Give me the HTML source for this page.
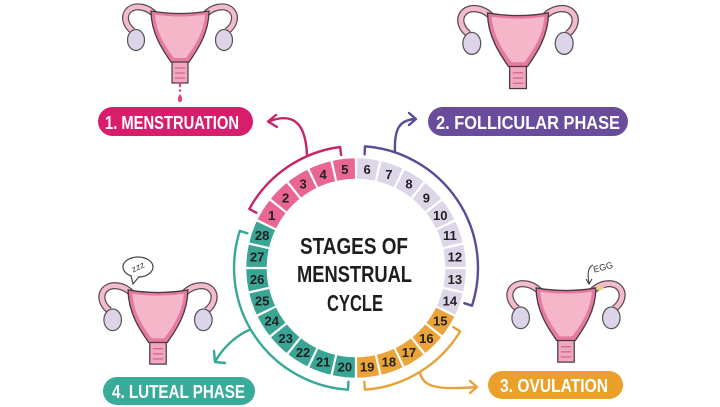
<!DOCTYPE html>
<html><head><meta charset="utf-8"><style>
html,body{margin:0;padding:0;background:#fff;}
svg{display:block;}
text{font-family:"Liberation Sans",sans-serif;}
</style></head><body>
<svg width="720" height="407" viewBox="0 0 720 407" xmlns="http://www.w3.org/2000/svg">
<defs>
  <path id="seg" d="M -11.40,-109.41 A 110 110 0 0 1 11.40,-109.41 L 9.23,-88.52 A 89 89 0 0 0 -9.23,-88.52 Z"/>
  <g id="ut">
    <path d="M -24,4 C -32,-6 -46,-8 -52,-1 C -57,5 -54,14 -47,19" fill="none" stroke="#5a4a55" stroke-width="7"/>
    <path d="M 24,4 C 32,-6 46,-8 52,-1 C 57,5 54,14 47,19" fill="none" stroke="#5a4a55" stroke-width="7"/>
    <path d="M -24,4 C -32,-6 -46,-8 -52,-1 C -57,5 -54,14 -47,19" fill="none" stroke="#f3bccb" stroke-width="4.6"/>
    <path d="M 24,4 C 32,-6 46,-8 52,-1 C 57,5 54,14 47,19" fill="none" stroke="#f3bccb" stroke-width="4.6"/>
    <ellipse cx="-44" cy="28" rx="8.5" ry="10.5" fill="#ddd4ea" stroke="#555" stroke-width="1.2"/>
    <ellipse cx="44" cy="28" rx="8.5" ry="10.5" fill="#ddd4ea" stroke="#555" stroke-width="1.2"/>
    <rect x="-8" y="49" width="16" height="22" fill="#f0a8bf" stroke="#4a3a40" stroke-width="1.2"/>
    <path d="M -5,56 L 5,56 M -5,61 L 5,61 M -5,66 L 5,66" stroke="#d46a8f" stroke-width="1.3"/>
    <path d="M -29,-1 Q 0,4 29,-1 C 29,22 16,40 9,50 L -9,50 C -16,40 -29,22 -29,-1 Z" fill="#e57a9e" stroke="#4a3a40" stroke-width="1.3"/>
    <path d="M -25,2.5 Q 0,6.5 25,2.5 C 24,21 13,37 6,46 L -6,46 C -13,37 -24,21 -25,2.5 Z" fill="#f5b6c9"/>
  </g>
</defs>

<!-- uteri -->
<use href="#ut" transform="translate(180,12)"/>
<path d="M180,84 L180,86" stroke="#d94a7e" stroke-width="2.4" stroke-linecap="round"/>
<circle cx="180" cy="90.5" r="1.3" fill="#d94a7e"/>
<path d="M180,94 Q184.5,100 180,102.5 Q175.5,100 180,94Z" fill="#d94a7e"/>

<use href="#ut" transform="translate(518,14) scale(1.05)"/>

<use href="#ut" transform="translate(566,289) scale(1.03)"/>
<ellipse cx="600" cy="288" rx="4" ry="2.2" fill="#e6cf86"/>
<text x="593" y="271" font-size="9" fill="#333" transform="rotate(-14 600 267)">EGG</text>
<path d="M593,265 Q586,268 589,283" fill="none" stroke="#333" stroke-width="1"/>
<path d="M586,279 L589,284 L592,279" fill="none" stroke="#333" stroke-width="1"/>

<use href="#ut" transform="translate(158,291) scale(1.03)"/>
<ellipse cx="138" cy="267" rx="15" ry="10" fill="#fff" stroke="#444" stroke-width="1.2"/>
<path d="M131,275.5 L133,284 L139,276.8" fill="#fff" stroke="#444" stroke-width="1.2"/>
<text x="138" y="270" font-size="9" fill="#444" text-anchor="middle" transform="rotate(-25 138 267)">zzz</text>

<!-- pills -->
<rect x="98" y="107" width="155" height="29" rx="14.5" fill="#d81d6b"/>
<text x="105" y="129" font-size="18" font-weight="bold" fill="#fff" textLength="134" lengthAdjust="spacingAndGlyphs">1. MENSTRUATION</text>
<rect x="428" y="107" width="200" height="29" rx="14.5" fill="#6a4c9c"/>
<text x="436" y="129" font-size="18" font-weight="bold" fill="#fff" textLength="184" lengthAdjust="spacingAndGlyphs">2. FOLLICULAR PHASE</text>
<rect x="488" y="371" width="135" height="28" rx="14" fill="#eba02a"/>
<text x="500" y="392" font-size="18" font-weight="bold" fill="#fff" textLength="108" lengthAdjust="spacingAndGlyphs">3. OVULATION</text>
<rect x="103" y="377" width="152" height="28" rx="14" fill="#38ab9a"/>
<text x="112" y="398" font-size="18" font-weight="bold" fill="#fff" textLength="133" lengthAdjust="spacingAndGlyphs">4. LUTEAL PHASE</text>

<!-- brackets -->
<g fill="none" stroke-width="2.4" stroke-linecap="round" stroke-linejoin="round">
  <path d="M 256.3,212.7 L 249.3,208.9 A 122 122 0 0 1 340.1,147.0 L 341.1,155.0" stroke="#c8246a"/>
  <path d="M 307,156 C 306,125 295,112 270,121" stroke="#c8246a"/>
  <path d="M 276,115 L 268,121.5 L 277,127" stroke="#c8246a"/>

  <path d="M 364.6,154.3 L 365,146.3 A 122 122 0 0 1 472.0,305.7 L 464.4,303.2" stroke="#5c4a9a"/>
  <path d="M 395,152 C 394,128 400,120 415,119" stroke="#5c4a9a"/>
  <path d="M 409,113 L 416,119 L 409,125" stroke="#5c4a9a"/>

  <path d="M 453.4,327.2 L 460.2,331.4 A 122 122 0 0 1 365,389.7 L 364.3,381.7" stroke="#e6a23a"/>
  <path d="M 420,372 C 422,388 440,390 476,387" stroke="#e6a23a"/>
  <path d="M 470,381 L 477,387 L 470,393" stroke="#e6a23a"/>

  <path d="M 247.4,233.3 L 239.8,230.9 A 122 122 0 0 0 348,389.7 L 348.4,381.7" stroke="#36a896"/>
  <path d="M 249,330 C 238,335 225,345 216,360" stroke="#36a896"/>
  <path d="M 214,351 L 215,362 L 225,363" stroke="#36a896"/>
</g>

<!-- ring -->
<g transform="translate(356,268)" stroke="#fff" stroke-width="0.6">
  <use href="#seg" fill="#e8668f" transform="rotate(-57.857)"/>
  <use href="#seg" fill="#e8668f" transform="rotate(-45)"/>
  <use href="#seg" fill="#e8668f" transform="rotate(-32.143)"/>
  <use href="#seg" fill="#e8668f" transform="rotate(-19.286)"/>
  <use href="#seg" fill="#e8668f" transform="rotate(-6.429)"/>
  <use href="#seg" fill="#dcd6e8" transform="rotate(6.429)"/>
  <use href="#seg" fill="#dcd6e8" transform="rotate(19.286)"/>
  <use href="#seg" fill="#dcd6e8" transform="rotate(32.143)"/>
  <use href="#seg" fill="#dcd6e8" transform="rotate(45)"/>
  <use href="#seg" fill="#dcd6e8" transform="rotate(57.857)"/>
  <use href="#seg" fill="#dcd6e8" transform="rotate(70.714)"/>
  <use href="#seg" fill="#dcd6e8" transform="rotate(83.571)"/>
  <use href="#seg" fill="#dcd6e8" transform="rotate(96.429)"/>
  <use href="#seg" fill="#dcd6e8" transform="rotate(109.286)"/>
  <use href="#seg" fill="#eba43a" transform="rotate(122.143)"/>
  <use href="#seg" fill="#eba43a" transform="rotate(135)"/>
  <use href="#seg" fill="#eba43a" transform="rotate(147.857)"/>
  <use href="#seg" fill="#eba43a" transform="rotate(160.714)"/>
  <use href="#seg" fill="#eba43a" transform="rotate(173.571)"/>
  <use href="#seg" fill="#3aa594" transform="rotate(186.429)"/>
  <use href="#seg" fill="#3aa594" transform="rotate(199.286)"/>
  <use href="#seg" fill="#3aa594" transform="rotate(212.143)"/>
  <use href="#seg" fill="#3aa594" transform="rotate(225)"/>
  <use href="#seg" fill="#3aa594" transform="rotate(237.857)"/>
  <use href="#seg" fill="#3aa594" transform="rotate(250.714)"/>
  <use href="#seg" fill="#3aa594" transform="rotate(263.571)"/>
  <use href="#seg" fill="#3aa594" transform="rotate(276.429)"/>
  <use href="#seg" fill="#3aa594" transform="rotate(289.286)"/>
</g>
<g transform="translate(356,268)" font-size="13" font-weight="bold" fill="#222" text-anchor="middle">
  <text transform="rotate(-57.857) translate(0,-99.5) rotate(57.857)" y="4.7">1</text>
  <text transform="rotate(-45) translate(0,-99.5) rotate(45)" y="4.7">2</text>
  <text transform="rotate(-32.143) translate(0,-99.5) rotate(32.143)" y="4.7">3</text>
  <text transform="rotate(-19.286) translate(0,-99.5) rotate(19.286)" y="4.7">4</text>
  <text transform="rotate(-6.429) translate(0,-99.5) rotate(6.429)" y="4.7">5</text>
  <text transform="rotate(6.429) translate(0,-99.5) rotate(-6.429)" y="4.7">6</text>
  <text transform="rotate(19.286) translate(0,-99.5) rotate(-19.286)" y="4.7">7</text>
  <text transform="rotate(32.143) translate(0,-99.5) rotate(-32.143)" y="4.7">8</text>
  <text transform="rotate(45) translate(0,-99.5) rotate(-45)" y="4.7">9</text>
  <text transform="rotate(57.857) translate(0,-99.5) rotate(-57.857)" y="4.7">10</text>
  <text transform="rotate(70.714) translate(0,-99.5) rotate(-70.714)" y="4.7">11</text>
  <text transform="rotate(83.571) translate(0,-99.5) rotate(-83.571)" y="4.7">12</text>
  <text transform="rotate(96.429) translate(0,-99.5) rotate(-96.429)" y="4.7">13</text>
  <text transform="rotate(109.286) translate(0,-99.5) rotate(-109.286)" y="4.7">14</text>
  <text transform="rotate(122.143) translate(0,-99.5) rotate(-122.143)" y="4.7">15</text>
  <text transform="rotate(135) translate(0,-99.5) rotate(-135)" y="4.7">16</text>
  <text transform="rotate(147.857) translate(0,-99.5) rotate(-147.857)" y="4.7">17</text>
  <text transform="rotate(160.714) translate(0,-99.5) rotate(-160.714)" y="4.7">18</text>
  <text transform="rotate(173.571) translate(0,-99.5) rotate(-173.571)" y="4.7">19</text>
  <text transform="rotate(186.429) translate(0,-99.5) rotate(-186.429)" y="4.7">20</text>
  <text transform="rotate(199.286) translate(0,-99.5) rotate(-199.286)" y="4.7">21</text>
  <text transform="rotate(212.143) translate(0,-99.5) rotate(-212.143)" y="4.7">22</text>
  <text transform="rotate(225) translate(0,-99.5) rotate(-225)" y="4.7">23</text>
  <text transform="rotate(237.857) translate(0,-99.5) rotate(-237.857)" y="4.7">24</text>
  <text transform="rotate(250.714) translate(0,-99.5) rotate(-250.714)" y="4.7">25</text>
  <text transform="rotate(263.571) translate(0,-99.5) rotate(-263.571)" y="4.7">26</text>
  <text transform="rotate(276.429) translate(0,-99.5) rotate(-276.429)" y="4.7">27</text>
  <text transform="rotate(289.286) translate(0,-99.5) rotate(-289.286)" y="4.7">28</text>
</g>

<!-- center title -->
<g font-size="23" font-weight="bold" fill="#1e1e1e">
  <text x="300" y="254" textLength="108" lengthAdjust="spacingAndGlyphs">STAGES OF</text>
  <text x="297" y="282" textLength="115" lengthAdjust="spacingAndGlyphs">MENSTRUAL</text>
  <text x="327" y="311" textLength="56" lengthAdjust="spacingAndGlyphs">CYCLE</text>
</g>
</svg>
</body></html>
